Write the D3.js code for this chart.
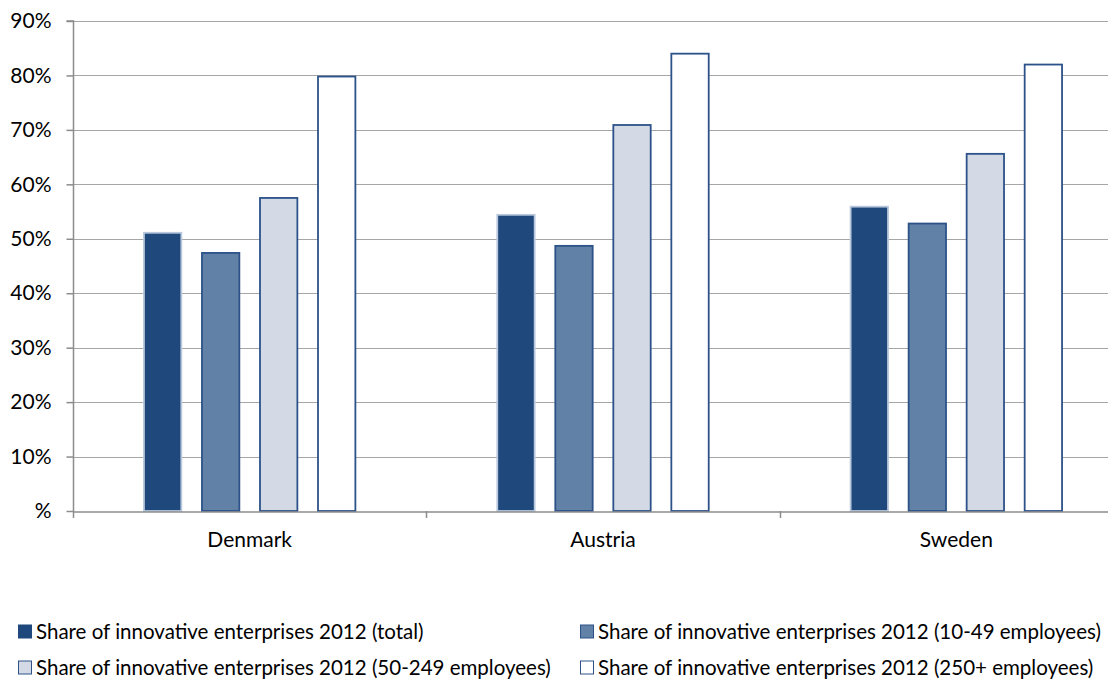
<!DOCTYPE html>
<html><head><meta charset="utf-8">
<script src="https://cdn.jsdelivr.net/npm/d3@7"></script>
<style>body{margin:0;background:#fff}svg{display:block}text{font-family:Lato,"Open Sans",sans-serif;fill:#000}</style>
</head><body>
<script>
const categories = ["Denmark", "Austria", "Sweden"];
const seriesNames = [
  "Share of innovative enterprises 2012 (total)",
  "Share of innovative enterprises 2012 (10-49 employees)",
  "Share of innovative enterprises 2012 (50-249 employees)",
  "Share of innovative enterprises 2012 (250+ employees)"
];
const totalValues = [51.1, 54.4, 55.9];
const small = [47.4, 48.7, 52.8];
const medium = [57.5, 70.9, 65.6];
const large = [79.8, 84.0, 82.0];
const yTicks = [0, 10, 20, 30, 40, 50, 60, 70, 80, 90];
const yTickLabels = ["%", "10%", "20%", "30%", "40%", "50%", "60%", "70%", "80%", "90%"];

const seriesValues = [totalValues, small, medium, large];
const fills = ["#1F497D", "#6281A6", "#D3DAE5", "#FFFFFF"];
const strokes = ["#B9C8DC", "#2C5289", "#2C5289", "#2C5289"];

const W = 1108, H = 682;
const FS = 21, LFS = 20.5;
const svg = d3.select("body").append("svg").attr("width", W).attr("height", H);
const pLeft = 73, pRight = 1133, pTop = 21, pBottom = 511;

const y = d3.scaleLinear().domain([0, 90]).range([pBottom, pTop]);
const x0 = d3.scaleBand().domain(categories).range([pLeft, pRight]).padding(0);
const x1 = d3.scaleBand().domain(d3.range(4)).range([0, x0.bandwidth()]).paddingInner(0.33).paddingOuter(1.21);

// gridlines
svg.append("g").selectAll("line").data(yTicks.filter(d => d > 0)).join("line")
  .attr("x1", pLeft).attr("x2", pRight)
  .attr("y1", d => Math.round(y(d)) + 0.5).attr("y2", d => Math.round(y(d)) + 0.5)
  .attr("stroke", "#A6A6A6").attr("stroke-width", 1.2);

// y axis
const yAxis = d3.axisLeft(y).tickValues(yTicks).tickFormat((d, i) => yTickLabels[i]).tickSize(7).tickPadding(15);
const gy = svg.append("g").attr("transform", `translate(${pLeft + 0.5},0)`).call(yAxis);
gy.select(".domain").attr("stroke", "#8C8C8C").attr("stroke-width", 1.5).attr("d", `M-7,${pTop}H0V${pBottom}`);
gy.selectAll(".tick line").attr("stroke", "#8C8C8C").attr("stroke-width", 1.5);
gy.selectAll(".tick text").attr("font-size", FS).attr("fill", "#000").attr("font-family", "Lato, sans-serif");

// bars
const groups = svg.append("g").selectAll("g").data(categories).join("g")
  .attr("transform", d => `translate(${x0(d)},0)`);
groups.selectAll("rect").data((c, ci) => seriesValues.map((s, si) => ({si, v: s[ci]}))).join("rect")
  .attr("x", d => x1(d.si) + 0.75)
  .attr("width", x1.bandwidth() - 1.5)
  .attr("y", d => y(d.v))
  .attr("height", d => y(0) - y(d.v))
  .attr("fill", d => fills[d.si])
  .attr("stroke", d => strokes[d.si])
  .attr("stroke-width", 1.8);

// x axis
const xAxis = d3.axisBottom(x0).tickSize(0).tickPadding(21);
const gx = svg.append("g").attr("transform", `translate(0,${pBottom + 0.5})`).call(xAxis);
gx.select(".domain").attr("stroke", "#8C8C8C").attr("stroke-width", 1.5);
gx.selectAll(".tick text").attr("font-size", FS).attr("fill", "#000").attr("font-family", "Lato, sans-serif");
// category separators
svg.append("g").selectAll("line").data(categories.slice(1)).join("line")
  .attr("x1", d => Math.round(x0(d)) + 0.5).attr("x2", d => Math.round(x0(d)) + 0.5)
  .attr("y1", pBottom).attr("y2", pBottom + 7)
  .attr("stroke", "#8C8C8C").attr("stroke-width", 1.5);
svg.append("line").attr("x1", pLeft + 0.5).attr("x2", pLeft + 0.5).attr("y1", pBottom).attr("y2", pBottom + 7)
  .attr("stroke", "#8C8C8C").attr("stroke-width", 1.5);

// legend
const legPos = [[18, 632], [580, 632], [18, 668], [580, 668]];
const leg = svg.append("g").selectAll("g").data(seriesNames).join("g")
  .attr("transform", (d, i) => `translate(${legPos[i][0]},${legPos[i][1]})`);
leg.append("rect").attr("x", 0.5).attr("y", -7).attr("width", 13).attr("height", 13)
  .attr("fill", (d, i) => fills[i]).attr("stroke", (d, i) => i === 0 ? "#1F497D" : "#2C5289").attr("stroke-width", 1);
leg.append("text").attr("x", 18).attr("y", 0).attr("dy", "0.35em").attr("font-size", LFS).text(d => d);
</script>
</body></html>
